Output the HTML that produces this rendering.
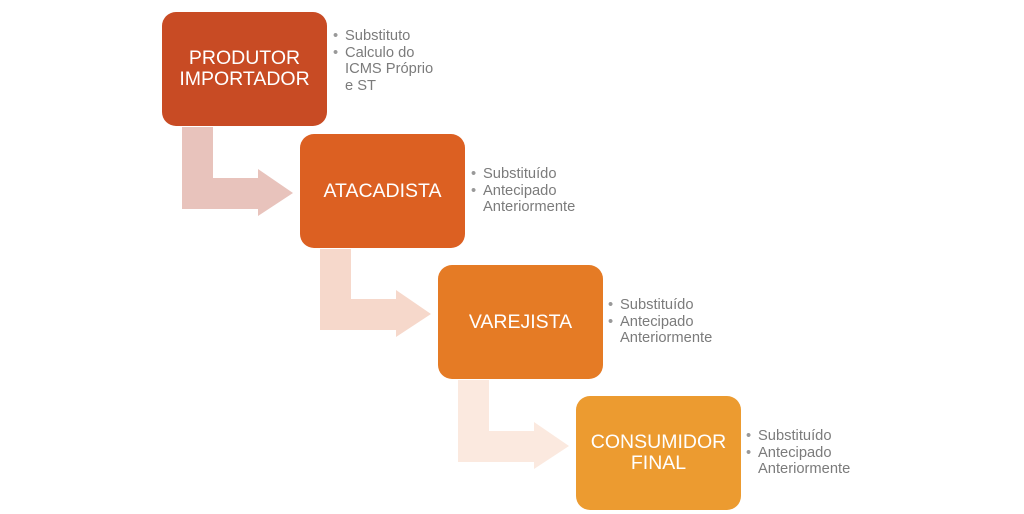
<!DOCTYPE html>
<html><head><meta charset="utf-8"><style>
body{margin:0;width:1024px;height:514px;background:#fff;position:relative;overflow:hidden;font-family:"Liberation Sans",sans-serif}
.b{position:absolute;width:165px;height:114px;border-radius:14px;color:#fff;font-size:19.5px;display:flex;align-items:center;justify-content:center;text-align:center;line-height:21px}
.t{position:absolute;color:#7b7b7b;font-size:14.7px;line-height:16.5px}
.t div{padding-left:12px;position:relative}
.t div.bl:before{content:"•";position:absolute;left:0;color:#999}
svg{position:absolute;left:0;top:0}
</style></head><body>
<svg width="1024" height="514">
<path d="M182 127h31v51h45v-9l35 24l-35 23v-7h-76z" fill="#e8c3bc"/>
<path d="M320 249h31v50h45v-9l35 24l-35 23v-7h-76z" fill="#f6d8cb"/>
<path d="M458 380h31v51h45v-9l35 24l-35 23v-7h-76z" fill="#fbe9df"/>
</svg>
<div class="b" style="left:162px;top:12px;background:#c84b24">PRODUTOR<br>IMPORTADOR</div>
<div class="b" style="left:300px;top:134px;background:#dc6022">ATACADISTA</div>
<div class="b" style="left:438px;top:265px;background:#e57b25">VAREJISTA</div>
<div class="b" style="left:576px;top:396px;background:#ec9b30">CONSUMIDOR<br>FINAL</div>
<div class="t" style="left:333px;top:28px"><div class="bl">Substituto</div><div class="bl">Calculo do</div><div>ICMS Próprio</div><div>e ST</div></div>
<div class="t" style="left:471px;top:166px"><div class="bl">Substituído</div><div class="bl">Antecipado</div><div>Anteriormente</div></div>
<div class="t" style="left:608px;top:297px"><div class="bl">Substituído</div><div class="bl">Antecipado</div><div>Anteriormente</div></div>
<div class="t" style="left:746px;top:428px"><div class="bl">Substituído</div><div class="bl">Antecipado</div><div>Anteriormente</div></div>
</body></html>
